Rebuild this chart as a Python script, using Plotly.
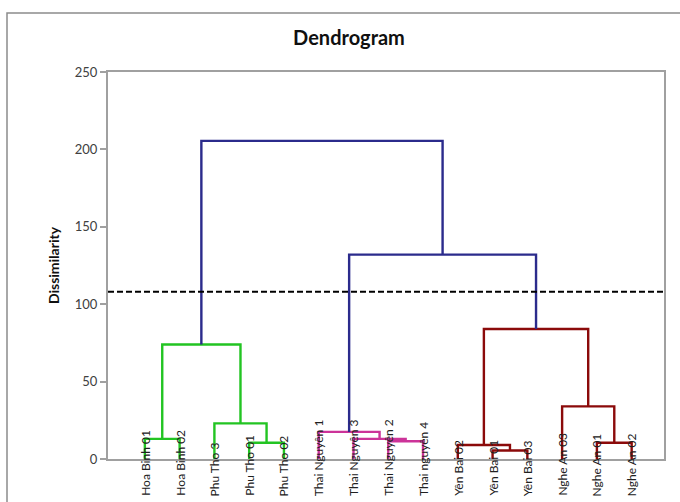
import plotly.graph_objects as go

# ---- data ----
leaf_labels = ["Hoa Binh 01", "Hoa Binh 02", "Phu Tho 3", "Phu Tho 01", "Phu Tho 02",
               "Thai Nguyên 1", "Thai Nguyên 3", "Thai Nguyên 2", "Thai nguyên 4",
               "Yên Bai 02", "Yên Bai 01", "Yên Bai 03",
               "Nghe An 03", "Nghe An 01", "Nghe An 02"]
# merges: (node a, node b, height); leaves are 0..14, new nodes numbered from 15
merge_a = [0, 3, 2, 15, 7, 6, 5, 10, 9, 13, 12, 23, 21, 18]
merge_b = [1, 4, 16, 17, 8, 19, 20, 11, 22, 14, 24, 25, 26, 27]
merge_h = [13, 10.5, 23, 74, 11.5, 13, 17.5, 5.5, 9, 10.5, 34, 84, 132, 205.5]
merge_group = ["C1", "C1", "C1", "C1", "C2", "C2", "C2", "C3", "C3", "C3", "C3", "C3", "top", "top"]
cutoff = 108
y_ticks = [0, 50, 100, 150, 200, 250]

group_colors = {"C1": "#22c422", "C2": "#cc3399", "C3": "#8b0a0a", "top": "#2b2b8c"}

n = len(leaf_labels)
pos = {i: float(i) for i in range(n)}
hgt = {i: 0.0 for i in range(n)}

fig = go.Figure()
for k, (a, b, h, g) in enumerate(zip(merge_a, merge_b, merge_h, merge_group)):
    node = n + k
    xa, xb = pos[a], pos[b]
    fig.add_trace(go.Scatter(
        x=[xa, xa, xb, xb], y=[hgt[a], h, h, hgt[b]], mode="lines",
        line=dict(color=group_colors[g], width=2.4), showlegend=False, hoverinfo="skip"))
    pos[node] = (xa + xb) / 2
    hgt[node] = h

# cutoff line
fig.add_trace(go.Scatter(x=[-1.06, 14.93], y=[cutoff, cutoff], mode="lines",
                         line=dict(color="black", width=2, dash="6px,3px"),
                         showlegend=False, hoverinfo="skip"))

# leaf labels
for i, lab in enumerate(leaf_labels):
    fig.add_annotation(x=i, y=(459 - 498) / 387, xref="x", yref="paper", text=lab,
                       textangle=-90, showarrow=False, xanchor="center", yanchor="bottom",
                       font=dict(family="Lato", size=12, color="#202020"))

# outer chart frame
fig.add_shape(type="rect", xref="paper", yref="paper",
              x0=(7 - 108) / 556, x1=(700 - 108) / 556,
              y0=(459 - 520) / 387, y1=1 + (72 - 13) / 387,
              line=dict(color="#8c8c8c", width=1.5), layer="below")

fig.update_layout(
    width=680, height=502,
    margin=dict(l=108, r=16, t=72, b=43),
    paper_bgcolor="white", plot_bgcolor="white",
    title=dict(text="<b>Dendrogram</b>", x=349 / 680,
               xanchor="center", y=1 - 38 / 502, yanchor="middle",
               font=dict(family="Lato", size=20, color="#101010")),
    font=dict(family="Lato", size=13, color="#404040"),
)
fig.update_xaxes(range=[-1.06, 14.93], showticklabels=False, ticks="",
                 showgrid=False, zeroline=False, showline=True, linecolor="#a0a0a0",
                 linewidth=2, mirror=True)
fig.update_yaxes(range=[0, 250], tickvals=y_ticks, ticks="outside", ticklen=6,
                 tickcolor="#a0a0a0", tickwidth=1.5, showgrid=False, zeroline=False,
                 showline=True, linecolor="#a0a0a0", linewidth=2, mirror=True,
                 tickfont=dict(family="Lato", size=13, color="#404040"),
                 title=dict(text="<b>Dissimilarity</b>", standoff=12,
                            font=dict(family="Lato", size=14, color="#101010")))

fig.write_html("out.html", config={"displayModeBar": False},
               post_script="document.body.style.margin='0px';document.body.style.overflow='hidden';")
